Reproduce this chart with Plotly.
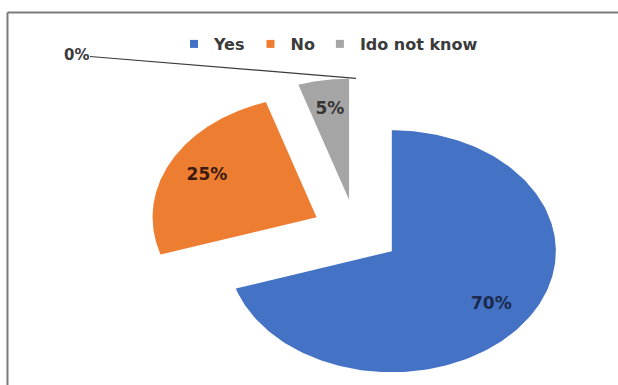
import numpy as np
import plotly.graph_objects as go

# Survey answers (percent of respondents)
categories = ["Yes", "No", "Ido not know", ""]
shares = [70, 25, 5, 0]
slice_colors = ["#4472C4", "#ED7D31", "#A5A5A5", "#A5A5A5"]
label_colors = ["#1b2a4e", "#3a1a0c", "#353535", "#3a3a3a"]

# Figure / pie geometry (pixels)
W, H = 618, 385
CX, CY = 356, 232        # pie centre
RX, RY = 164, 121        # horizontal / vertical radius
EXPLODE = 0.27           # slice offset, fraction of radius
LABEL_R = 0.75           # data-label distance from slice tip
FONT = "DejaVu Sans"

fig = go.Figure()

total = float(sum(shares))
start = 0.0
lab_x, lab_y, lab_t, lab_c = [], [], [], []
zero_tip = None
for name, v, col, lc in zip(categories, shares, slice_colors, label_colors):
    frac = v / total
    a0 = start * 2 * np.pi
    a1 = (start + frac) * 2 * np.pi
    mid = 0.5 * (a0 + a1)
    # clockwise from 12 o'clock
    ox, oy = EXPLODE * np.sin(mid), EXPLODE * np.cos(mid)
    if v > 0:
        t = np.linspace(a0, a1, 200)
        xs = np.concatenate([[ox], ox + np.sin(t), [ox]])
        ys = np.concatenate([[oy], oy + np.cos(t), [oy]])
        fig.add_trace(go.Scatter(
            x=xs, y=ys, mode="lines", fill="toself", fillcolor=col,
            line=dict(width=0, color=col), showlegend=False, hoverinfo="skip"))
        lab_x.append(ox + LABEL_R * np.sin(mid))
        lab_y.append(oy + LABEL_R * np.cos(mid))
        lab_t.append(f"{v}%")
        lab_c.append(lc)
    else:
        zero_tip = (ox + np.sin(mid), oy + np.cos(mid), f"{v}%", lc)
    start += frac

# Data labels inside the slices
fig.add_trace(go.Scatter(
    x=lab_x, y=lab_y, mode="text", text=lab_t,
    textfont=dict(family=FONT, size=17, color=lab_c, weight="bold"),
    showlegend=False, hoverinfo="skip"))

# Legend entries (square swatches)
for name, col in zip(categories, slice_colors):
    if name:
        fig.add_trace(go.Scatter(
            x=[None], y=[None], mode="markers", name=name,
            marker=dict(symbol="square", size=8, color=col)))

# Zero-share label with leader line
if zero_tip is not None:
    zx, zy, zt, zc = zero_tip
    fig.add_annotation(
        x=zx, y=zy, text=zt, showarrow=True, arrowhead=0, arrowwidth=1.2,
        arrowcolor="#3a3a3a", ax=-280, ay=-23,
        font=dict(family=FONT, size=15, color=zc, weight="bold"))

# Chart frame (left and top edges)
fx, fy = 7.5 / W, 1 - 12.5 / H
frame = dict(type="line", xref="paper", yref="paper",
             line=dict(color="#7a7a7a", width=2))
fig.add_shape(x0=fx, y0=0, x1=fx, y1=fy, **frame)
fig.add_shape(x0=fx, y0=fy, x1=1, y1=fy, **frame)

fig.update_layout(
    width=W, height=H,
    margin=dict(l=0, r=0, t=0, b=0),
    paper_bgcolor="white", plot_bgcolor="white",
    xaxis=dict(range=[-CX / RX, (W - CX) / RX], visible=False, fixedrange=True),
    yaxis=dict(range=[(CY - H) / RY, CY / RY], visible=False, fixedrange=True),
    showlegend=True,
    legend=dict(
        orientation="h", x=174 / W, xanchor="left", y=1 - 44 / H, yanchor="middle",
        font=dict(family=FONT, size=16, color="#3a3a3a", weight="bold"),
        itemwidth=30, bgcolor="rgba(0,0,0,0)"),
)

fig.write_html("out.html")
